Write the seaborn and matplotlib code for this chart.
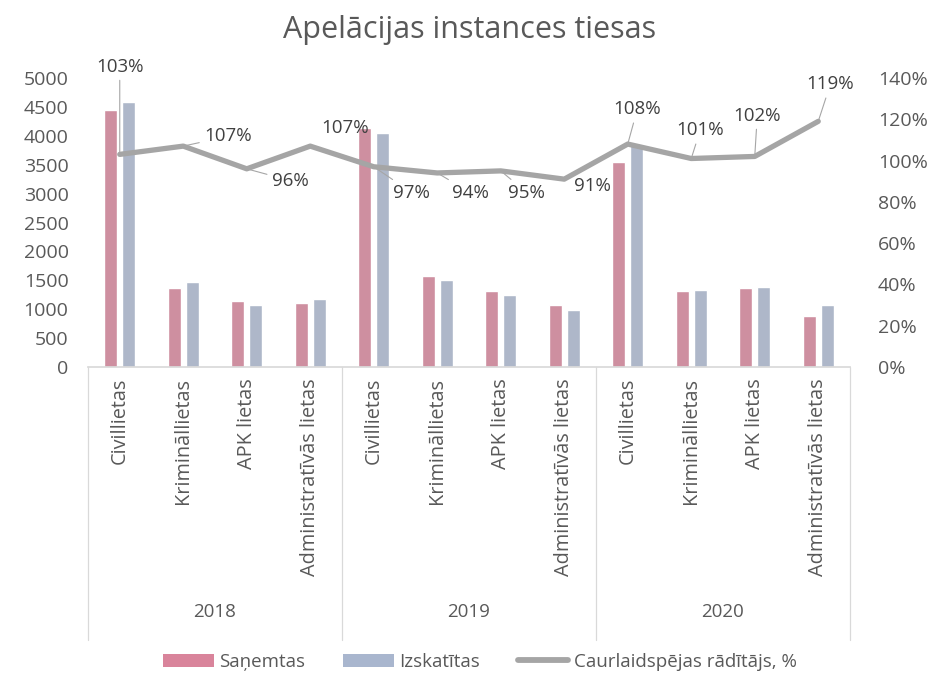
import numpy as np
import pandas as pd
import matplotlib
matplotlib.use("Agg")
import matplotlib.pyplot as plt
import matplotlib.transforms as mtransforms
from matplotlib.patches import Patch
from matplotlib.lines import Line2D
import seaborn as sns

# ---- data ----
years = ["2018", "2019", "2020"]
categories = ["Civillietas", "Krimināllietas", "APK lietas", "Administratīvās lietas"]
sanemtas = [4440, 1370, 1135, 1105, 4135, 1580, 1320, 1075, 3545, 1320, 1365, 890]
izskatitas = [4580, 1475, 1080, 1185, 4045, 1500, 1240, 980, 3845, 1340, 1390, 1075]
caurlaidspeja = [103, 107, 96, 107, 97, 94, 95, 91, 108, 101, 102, 119]
series_names = ["Saņemtas", "Izskatītas", "Caurlaidspējas rādītājs, %"]
title = "Apelācijas instances tiesas"
left_ticks = list(range(0, 5001, 500))
right_ticks = list(range(0, 141, 20))

# label placement (text centre, in category index / percent units) and leader flags
label_pos = [(0.0, 145.5), (1.70, 111.7), (2.68, 90.3), (3.55, 116.0),
             (4.60, 84.5), (5.52, 84.5), (6.41, 84.5), (7.45, 87.9),
             (8.15, 124.8), (9.14, 114.6), (10.04, 121.8), (11.19, 136.9)]
leader = [True, True, True, False, True, True, True, False, True, True, True, True]

# ---- styling ----
sns.set_theme(style="white")
plt.rcParams["font.family"] = ["Open Sans", "DejaVu Sans"]
PINK = "#D9849B"
BLUE = "#A9B6CE"
LINE = "#A5A5A5"
TXT = "#595959"

keys = [f"{y}|{c}" for y in years for c in categories]
df = pd.DataFrame({
    "key": keys * 2,
    "value": sanemtas + izskatitas,
    "series": [series_names[0]] * 12 + [series_names[1]] * 12,
})

fig = plt.figure(figsize=(9.4, 6.92), dpi=100)
ax = fig.add_axes([88 / 940, 1 - 367 / 692, (850 - 88) / 940, 289 / 692])

sns.barplot(data=df, x="key", y="value", hue="series", order=keys,
            palette=[PINK, BLUE], width=0.57, gap=0.26, ax=ax, legend=False)
ax.set_xlim(-0.5, 11.5)
ax.set_ylim(0, 5000)
ax.set_yticks(left_ticks)
ax.set_yticklabels([str(t) for t in left_ticks], fontsize=14, color=TXT)
ax.set_xticks(range(12))
ax.set_xticklabels(categories * 3, rotation=90, fontsize=14.3, color=TXT,
                   va="top", ha="center")
ax.tick_params(axis="both", length=0)
ax.tick_params(axis="x", pad=8)
ax.tick_params(axis="y", pad=14)
ax.set_xlabel("")
ax.set_ylabel("")
for s in ["top", "right", "left"]:
    ax.spines[s].set_visible(False)
ax.spines["bottom"].set_color("#D9D9D9")
ax.grid(False)

# group separators and year labels
trans = mtransforms.blended_transform_factory(ax.transData, ax.transAxes)
for xb in [-0.5, 3.5, 7.5, 11.5]:
    ax.plot([xb, xb], [0, -0.945], transform=trans, color="#D9D9D9",
            lw=0.9, clip_on=False)
for gi, y in enumerate(years):
    ax.text(gi * 4 + 1.5, -0.848, y, transform=trans, ha="center", va="center",
            fontsize=13.5, color=TXT)

# percentage line
ax2 = ax.twinx()
sns.lineplot(x=np.arange(12), y=caurlaidspeja, ax=ax2, color=LINE, lw=3.8,
             legend=False)
ax2.set_xlim(-0.5, 11.5)
ax2.set_ylim(0, 140)
ax2.set_yticks(right_ticks)
ax2.set_yticklabels([f"{t}%" for t in right_ticks], fontsize=14, color=TXT)
ax2.tick_params(axis="y", length=0, pad=20)
for s in ["top", "right", "left", "bottom"]:
    ax2.spines[s].set_visible(False)
ax2.grid(False)
ax2.set_ylabel("")

for i, v in enumerate(caurlaidspeja):
    lx, ly = label_pos[i]
    kw = {}
    if leader[i]:
        kw["arrowprops"] = dict(arrowstyle="-", color="#A6A6A6", lw=0.8,
                                shrinkA=1, shrinkB=0)
    ax2.annotate(f"{v}%", xy=(i, v), xytext=(lx, ly), textcoords="data",
                 ha="center", va="center", fontsize=13.5, color="#404040",
                 annotation_clip=False, **kw)

fig.text(0.5, 1 - 30 / 692, title, ha="center", va="center", fontsize=22,
         color=TXT)

handles = [Patch(facecolor=PINK, edgecolor="none"),
           Patch(facecolor=BLUE, edgecolor="none"),
           Line2D([0], [0], color=LINE, lw=4.2)]
fig.legend(handles, series_names, loc="center", bbox_to_anchor=(480 / 940, 1 - 662 / 692),
           ncol=3, frameon=False, fontsize=13.5, labelcolor=TXT,
           handlelength=2.7, handleheight=0.7, handletextpad=0.3,
           columnspacing=2.0)

fig.savefig("out.png", dpi=100)
